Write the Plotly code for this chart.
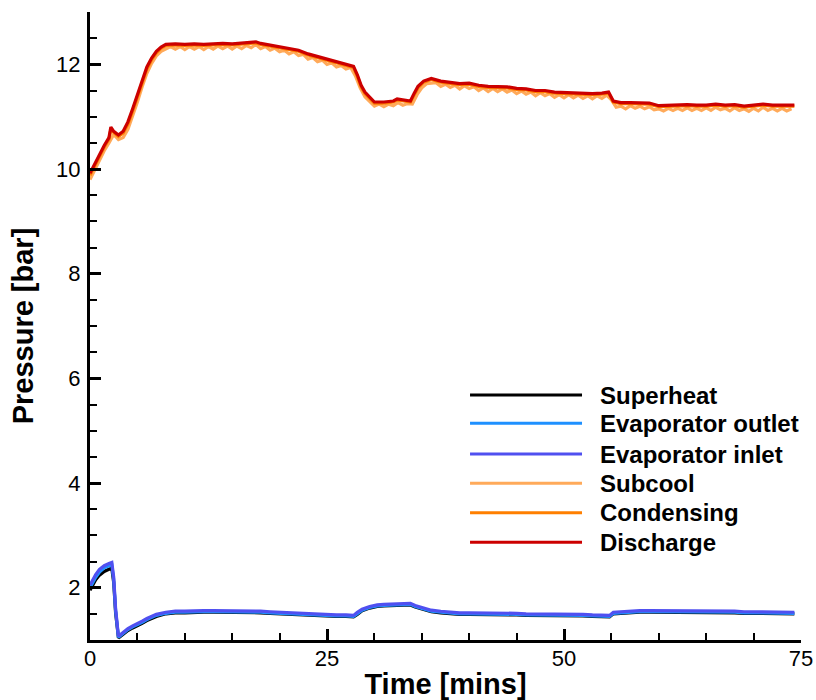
import numpy as np
import plotly.graph_objects as go

# ---------------- data ----------------
# High-pressure side (minutes)
t_top = [0, 0.5, 1, 1.5, 2, 2.2, 2.5, 3, 3.5, 4, 4.5, 5, 5.5, 6, 6.5, 7, 7.5,
         8, 9, 10, 11, 12, 13, 14, 15, 16, 17,
         17.5,
         18, 19, 20, 21, 22, 23, 24, 25, 26, 27,
         27.8, 28.2, 28.6, 29, 29.5, 30,
         31, 32, 32.4, 33, 33.8,
         34.2, 34.6, 35.2,
         36, 37, 38, 39, 40, 41, 42, 43, 44, 45, 46, 47, 48, 49, 50, 51, 52, 53, 54,
         54.7, 55.2,
         56, 57, 58, 59, 60, 61, 62, 63, 64, 65, 66, 67, 68, 69, 70, 71, 72, 73,
         74.3]

discharge = [9.92, 10.10, 10.30, 10.45, 10.60, 10.80, 10.72, 10.65, 10.72, 10.90, 11.15, 11.42, 11.70, 11.95, 12.12, 12.25, 12.33,
             12.38, 12.39, 12.38, 12.39, 12.38, 12.39, 12.40, 12.39, 12.40, 12.42,
             12.43,
             12.40, 12.37, 12.34, 12.30, 12.27, 12.20, 12.15, 12.10, 12.05, 12.01,
             11.96, 11.80, 11.60, 11.47, 11.37, 11.28,
             11.28, 11.30, 11.34, 11.32, 11.30,
             11.45, 11.58, 11.68,
             11.73, 11.68, 11.66, 11.63, 11.64, 11.60, 11.58, 11.58, 11.57, 11.54, 11.53, 11.50, 11.50, 11.47, 11.46, 11.46, 11.45, 11.44, 11.45,
             11.47, 11.30,
             11.27, 11.27, 11.26, 11.26, 11.21, 11.22, 11.22, 11.23, 11.22, 11.22, 11.24, 11.22, 11.23, 11.20, 11.22, 11.24, 11.22, 11.22,
             11.22]

condensing = [9.88, 10.06, 10.26, 10.42, 10.57, 10.76, 10.70, 10.62, 10.69, 10.86, 11.11, 11.38, 11.66, 11.91, 12.09, 12.22, 12.31,
              12.36, 12.37, 12.36, 12.37, 12.36, 12.37, 12.38, 12.37, 12.38, 12.40,
              12.41,
              12.38, 12.35, 12.32, 12.28, 12.25, 12.18, 12.13, 12.08, 12.03, 11.99,
              11.94, 11.77, 11.57, 11.44, 11.34, 11.26,
              11.26, 11.28, 11.32, 11.30, 11.28,
              11.42, 11.55, 11.66,
              11.71, 11.66, 11.64, 11.61, 11.62, 11.58, 11.56, 11.56, 11.55, 11.52, 11.51, 11.48, 11.48, 11.45, 11.44, 11.44, 11.43, 11.42, 11.43,
              11.45, 11.28,
              11.25, 11.25, 11.24, 11.24, 11.19, 11.20, 11.20, 11.21, 11.20, 11.20, 11.22, 11.20, 11.21, 11.18, 11.20, 11.22, 11.20, 11.20,
              11.20]

# Subcool sampled every half minute, 0 .. 74
t_sub = np.arange(0, 74.01, 0.5)
subcool = [9.80, 9.98, 10.18, 10.35, 10.50, 10.66, 10.56, 10.60, 10.76, 11.00, 11.28, 11.57, 11.83, 12.02, 12.16, 12.25,
           12.30, 12.34, 12.29, 12.34, 12.28, 12.34, 12.29, 12.34, 12.28, 12.34, 12.29, 12.35, 12.30, 12.35, 12.29, 12.35, 12.30, 12.36, 12.32, 12.38,
           12.30, 12.34, 12.27, 12.31, 12.24, 12.27, 12.20, 12.24, 12.17, 12.19, 12.10, 12.13, 12.05, 12.08, 12.00, 12.03, 11.95, 11.98, 11.91, 11.94,
           11.78, 11.55, 11.38, 11.28, 11.20, 11.24, 11.19, 11.24, 11.21, 11.27, 11.22, 11.25, 11.24, 11.42, 11.55, 11.63,
           11.64, 11.65, 11.58, 11.62, 11.56, 11.60, 11.53, 11.59, 11.54, 11.57, 11.50, 11.55, 11.48, 11.54, 11.48, 11.53, 11.47, 11.51, 11.44, 11.49,
           11.43, 11.47, 11.40, 11.46, 11.40, 11.44, 11.37, 11.42, 11.36, 11.42, 11.36, 11.41, 11.35, 11.40, 11.34, 11.40, 11.35, 11.41, 11.32, 11.18,
           11.20, 11.15, 11.21, 11.16, 11.20, 11.15, 11.19, 11.13, 11.15, 11.11, 11.16, 11.12, 11.16, 11.12, 11.17, 11.12, 11.16, 11.12, 11.17, 11.12,
           11.18, 11.13, 11.16, 11.11, 11.17, 11.12, 11.15, 11.10, 11.16, 11.11, 11.18, 11.12, 11.16, 11.11, 11.16, 11.11, 11.15]

# Low-pressure side (minutes)
t_bot = [0, 0.3, 0.6, 1.0, 1.5, 2.0, 2.3, 2.5, 2.7, 3.0, 3.5, 4, 4.5, 5, 5.5, 6, 6.5, 7,
         8, 9, 10, 11, 12, 13, 14, 15, 16, 17, 18, 19, 20, 21, 22, 23, 24, 25, 26, 27,
         27.8, 28.2, 28.7, 29.5, 30.3,
         31, 32, 33,
         33.8, 34.3, 35,
         36, 37, 38, 39, 40, 41, 42, 43, 44, 45, 46, 47, 48, 49, 50, 51, 52, 53, 54,
         54.8, 55.2,
         56, 57, 58, 59, 60, 61, 62, 63, 64, 65, 66, 67, 68, 69, 70, 71, 72, 73,
         74.3]

evap_inlet = [2.05, 2.15, 2.25, 2.35, 2.42, 2.46, 2.48, 2.20, 1.60, 1.07, 1.15, 1.22, 1.27, 1.31, 1.36, 1.41, 1.45, 1.49,
              1.53, 1.55, 1.55, 1.56, 1.56, 1.56, 1.56, 1.56, 1.55, 1.55, 1.55, 1.54, 1.53, 1.52, 1.52, 1.51, 1.50, 1.49, 1.48, 1.48,
              1.47, 1.53, 1.59, 1.64, 1.67,
              1.68, 1.69, 1.70,
              1.70, 1.66, 1.62,
              1.57, 1.55, 1.53, 1.52, 1.52, 1.52, 1.51, 1.51, 1.51, 1.51, 1.50, 1.50, 1.50, 1.50, 1.50, 1.49, 1.49, 1.48, 1.48,
              1.47, 1.53,
              1.54, 1.55, 1.56, 1.56, 1.56, 1.56, 1.55, 1.55, 1.55, 1.55, 1.55, 1.55, 1.55, 1.54, 1.54, 1.54, 1.54, 1.54,
              1.53]

evap_outlet = [2.00, 2.10, 2.20, 2.30, 2.38, 2.42, 2.44, 2.15, 1.56, 1.05, 1.13, 1.20, 1.25, 1.29, 1.34, 1.39, 1.43, 1.47,
               1.51, 1.53, 1.53, 1.54, 1.54, 1.54, 1.54, 1.54, 1.53, 1.53, 1.53, 1.52, 1.51, 1.50, 1.50, 1.49, 1.48, 1.47, 1.46, 1.46,
               1.45, 1.50, 1.57, 1.62, 1.65,
               1.66, 1.67, 1.68,
               1.68, 1.64, 1.60,
               1.55, 1.53, 1.51, 1.50, 1.50, 1.50, 1.49, 1.49, 1.49, 1.49, 1.48, 1.48, 1.48, 1.48, 1.48, 1.47, 1.47, 1.46, 1.46,
               1.45, 1.51,
               1.52, 1.53, 1.54, 1.54, 1.54, 1.54, 1.53, 1.53, 1.53, 1.53, 1.53, 1.53, 1.53, 1.52, 1.52, 1.52, 1.52, 1.52,
               1.51]

superheat = [1.95, 2.06, 2.15, 2.24, 2.31, 2.35, 2.37, 2.10, 1.52, 1.04, 1.11, 1.18, 1.23, 1.27, 1.32, 1.37, 1.41, 1.45,
             1.50, 1.52, 1.52, 1.53, 1.53, 1.53, 1.53, 1.53, 1.52, 1.52, 1.52, 1.51, 1.50, 1.49, 1.49, 1.48, 1.47, 1.46, 1.45, 1.45,
             1.44, 1.49, 1.56, 1.61, 1.64,
             1.65, 1.66, 1.67,
             1.67, 1.63, 1.59,
             1.54, 1.52, 1.50, 1.49, 1.49, 1.49, 1.48, 1.48, 1.48, 1.48, 1.47, 1.47, 1.47, 1.47, 1.47, 1.46, 1.46, 1.45, 1.45,
             1.44, 1.50,
             1.51, 1.52, 1.53, 1.53, 1.53, 1.53, 1.52, 1.52, 1.52, 1.52, 1.52, 1.52, 1.52, 1.51, 1.51, 1.51, 1.51, 1.51,
             1.50]

series_names = ["Superheat", "Evaporator outlet", "Evaporator inlet", "Subcool", "Condensing", "Discharge"]
series_colors = ["#000000", "#1E90FF", "#5050F0", "#FFAA5A", "#FF7F00", "#CC0000"]

x_ticks = [0, 25, 50, 75]
y_ticks = [2, 4, 6, 8, 10, 12]

series = [
    (t_bot, superheat),
    (t_bot, evap_outlet),
    (t_bot, evap_inlet),
    (list(t_sub), subcool),
    (t_top, condensing),
    (t_top, discharge),
]
for (xs, ys) in series:
    assert len(xs) == len(ys), (len(xs), len(ys))

# ---------------- figure ----------------
FONT = "Liberation Sans, Arial, sans-serif"
fig = go.Figure()
for (xs, ys), name, col in zip(series, series_names, series_colors):
    fig.add_trace(go.Scatter(x=xs, y=ys, mode="lines", name=name,
                             line=dict(color=col, width=3.2), showlegend=False))

# custom legend (long line samples like the reference)
leg_y = [0.390, 0.345, 0.296, 0.2495, 0.2027, 0.1556]
for name, col, yy in zip(series_names, series_colors, leg_y):
    fig.add_shape(type="line", xref="paper", yref="paper",
                  x0=0.5345, x1=0.692, y0=yy, y1=yy,
                  line=dict(color=col, width=3))
    fig.add_annotation(xref="paper", yref="paper", x=0.7145, y=yy,
                       text="<b>%s</b>" % name, showarrow=False,
                       xanchor="left", yanchor="middle",
                       font=dict(family=FONT, size=24, color="black"))

axis_common = dict(
    showline=True, linecolor="black", linewidth=3, mirror=False,
    showgrid=False, zeroline=False,
    ticks="inside", ticklen=11, tickwidth=3, tickcolor="black",
    tickfont=dict(family=FONT, size=22, color="black"),
)
fig.update_xaxes(range=[0, 75], tickvals=x_ticks, ticktext=[str(v) for v in x_ticks],
                 minor=dict(ticks="inside", ticklen=7, tickwidth=1.5, tickcolor="black", dtick=5, tick0=0),
                 title=dict(text="<b>Time [mins]</b>", font=dict(family=FONT, size=29, color="black"), standoff=6),
                 ticklabelstandoff=-3,
                 **axis_common)
fig.update_yaxes(range=[1, 13], tickvals=y_ticks, ticktext=[str(v) for v in y_ticks],
                 minor=dict(ticks="inside", ticklen=7, tickwidth=1.5, tickcolor="black", dtick=0.5, tick0=0),
                 title=dict(text="<b>Pressure [bar]</b>", font=dict(family=FONT, size=29, color="black"), standoff=14),
                 ticklabelstandoff=2,
                 **axis_common)

fig.update_layout(
    width=816, height=700,
    margin=dict(l=90, r=15, t=12, b=60, autoexpand=False),
    paper_bgcolor="white", plot_bgcolor="white",
    showlegend=False,
)
fig.write_html("out.html")
